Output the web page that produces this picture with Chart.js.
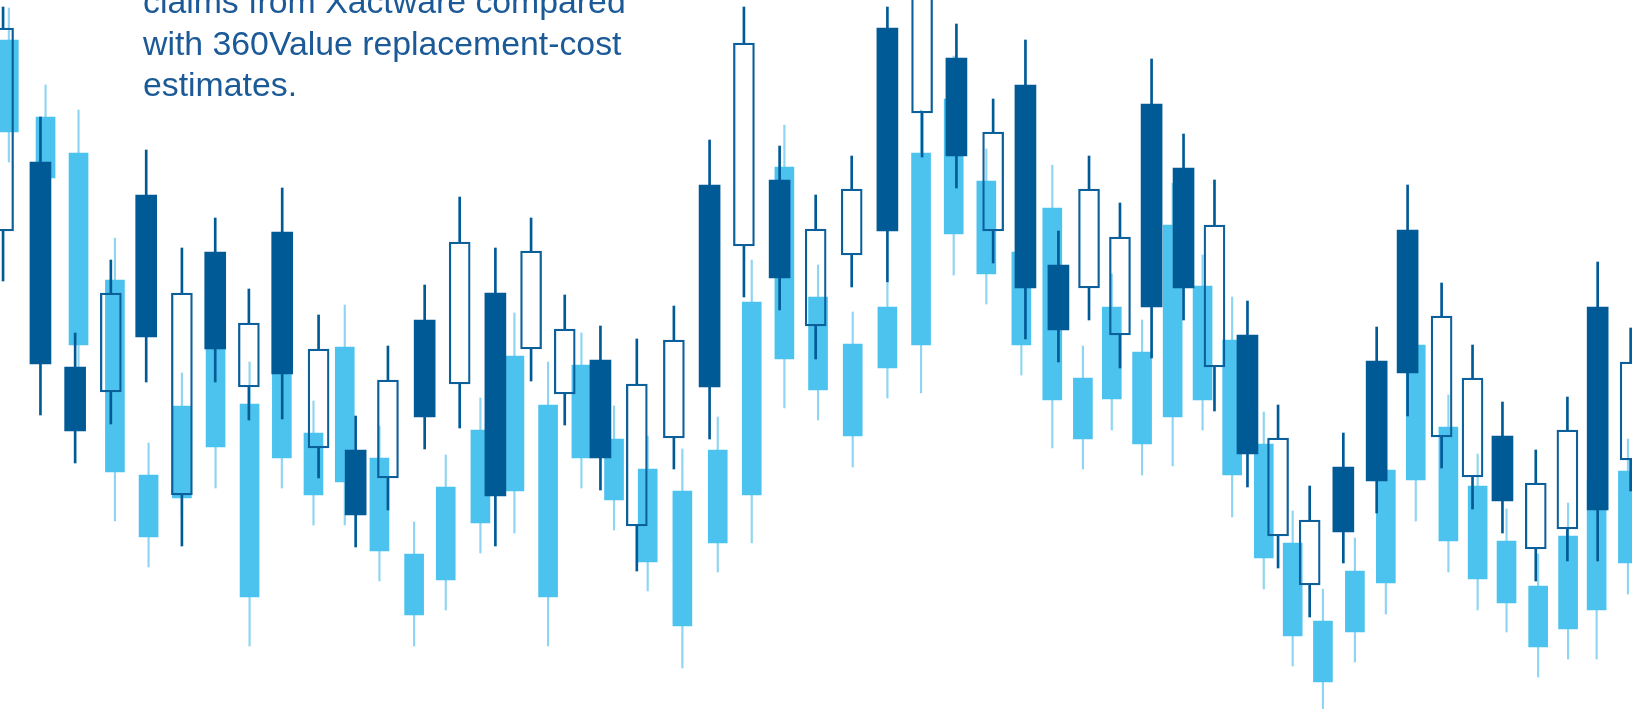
<!DOCTYPE html>
<html>
<head>
<meta charset="utf-8">
<title>Xactware vs 360Value</title>
<script src="https://cdn.jsdelivr.net/npm/chart.js@4.4.1/dist/chart.umd.min.js"></script>
<style>
  html, body { margin: 0; padding: 0; background: #fff; }
  #wrap { position: relative; width: 1632px; height: 709px; overflow: hidden; }
  #chart { position: absolute; left: 0; top: 0; }
  .caption {
    position: absolute;
    left: 143px;
    top: -19px;
    font-family: "Liberation Sans", Arial, Helvetica, sans-serif;
    font-size: 33.8px;
    line-height: 41.5px;
    color: #1b5a97;
    white-space: nowrap;
  }
</style>
</head>
<body>
<div id="wrap">
  <canvas id="chart" width="1632" height="709"></canvas>
  <div class="caption">claims from Xactware compared<br>with 360Value replacement-cost<br>estimates.</div>
</div>
<script>
// Xactware claims (dark candles): day position and OHLC index values
const xactDay = [0.09, 1.19, 2.21, 3.26, 4.30, 5.35, 6.33, 7.32, 8.30, 9.37, 10.46, 11.41, 12.49, 13.52, 14.57, 15.62, 16.61, 17.66, 18.73, 19.82, 20.87, 21.88, 22.93, 23.99, 25.05, 26.10, 27.12, 28.13, 29.21, 30.16, 31.13, 32.03, 32.94, 33.87, 34.81, 35.72, 36.69, 37.59, 38.52, 39.51, 40.49, 41.40, 42.40, 43.31, 44.19, 45.17, 46.10, 46.99, 47.96];
const xactOpen = [478, 547, 342, 317, 514, 214, 457, 322, 477, 261, 259, 231, 389, 325, 416, 360, 315, 349, 183, 271, 524, 463, 529, 383, 454, 681, 596, 651, 478, 624, 444, 421, 374, 605, 541, 342, 374, 173, 124, 242, 348, 479, 272, 232, 273, 160, 180, 402, 249];
const xactClose = [681, 345, 278, 416, 372, 416, 360, 386, 335, 360, 194, 329, 292, 467, 213, 458, 380, 251, 325, 369, 322, 666, 431, 480, 520, 478, 799, 553, 577, 421, 379, 520, 472, 402, 421, 484, 255, 271, 189, 177, 228, 336, 393, 331, 208, 226, 279, 199, 347];
const xactHigh = [702, 592, 376, 449, 559, 461, 491, 420, 521, 394, 293, 363, 424, 512, 461, 491, 414, 383, 370, 403, 569, 702, 563, 514, 553, 702, 839, 685, 610, 669, 478, 553, 506, 650, 575, 529, 408, 304, 223, 276, 382, 524, 426, 364, 307, 259, 312, 447, 381];
const xactLow = [428, 294, 246, 285, 327, 163, 327, 289, 290, 231, 162, 199, 260, 281, 163, 328, 284, 219, 138, 240, 270, 412, 399, 350, 422, 427, 552, 521, 446, 370, 347, 389, 341, 351, 389, 298, 222, 141, 92, 146, 196, 293, 241, 200, 176, 128, 148, 148, 218];

// 360Value estimates (light candles)
const valueDay = [0.26, 1.34, 2.31, 3.38, 4.37, 5.35, 6.34, 7.34, 8.29, 9.22, 10.14, 11.16, 12.18, 13.11, 14.13, 15.13, 16.12, 17.10, 18.06, 19.05, 20.07, 21.11, 22.11, 23.07, 24.06, 25.08, 26.10, 27.09, 28.05, 29.01, 30.04, 30.95, 31.85, 32.70, 33.59, 34.49, 35.37, 36.24, 37.17, 38.02, 38.91, 39.85, 40.76, 41.64, 42.60, 43.46, 44.31, 45.24, 46.12, 46.96, 47.88];
const valueOpen = [669, 592, 556, 429, 234, 303, 379, 305, 349, 276, 362, 251, 155, 222, 279, 353, 304, 344, 270, 240, 218, 259, 407, 542, 412, 365, 402, 556, 610, 528, 457, 501, 331, 402, 357, 484, 423, 369, 265, 166, 88, 138, 239, 364, 282, 223, 168, 123, 173, 229, 238];
const valueClose = [577, 531, 364, 237, 172, 211, 262, 112, 251, 214, 227, 158, 94, 129, 186, 218, 112, 251, 209, 147, 83, 166, 214, 350, 319, 273, 341, 364, 475, 435, 364, 309, 270, 310, 265, 292, 309, 234, 151, 73, 27, 77, 126, 229, 168, 130, 106, 62, 80, 99, 146];
const valueHigh = [701, 624, 599, 471, 266, 336, 409, 347, 379, 308, 404, 283, 187, 254, 311, 396, 347, 376, 303, 273, 260, 292, 449, 584, 444, 397, 426, 599, 653, 560, 489, 544, 363, 435, 389, 526, 454, 412, 297, 198, 120, 171, 259, 389, 314, 255, 200, 155, 206, 259, 270];
const valueLow = [547, 514, 338, 188, 142, 194, 221, 63, 221, 184, 184, 128, 63, 99, 156, 176, 63, 221, 179, 118, 41, 137, 166, 301, 289, 242, 311, 316, 434, 405, 334, 261, 240, 279, 234, 243, 279, 192, 120, 43, -11, 47, 95, 188, 137, 99, 77, 32, 50, 50, 115];

const DARK = "#005a96";
const HOLLOW_EDGE = "#0b5f9b";
const LIGHT = "#4cc3ee";
const LIGHT_WICK = "#8dd5f2";

function points(days, from, to, keep) {
  const out = [];
  days.forEach((d, i) => {
    if (!keep || keep(i)) {
      out.push({ x: d, y: [from[i], to[i]] });
    }
  });
  return out;
}

const rising = (i) => xactClose[i] > xactOpen[i];
const xactTop = xactOpen.map((o, i) => Math.max(o, xactClose[i]));
const xactBottom = xactOpen.map((o, i) => Math.min(o, xactClose[i]));

const datasets = [
  {
    label: "360Value wick",
    xAxisID: "xl",
    data: points(valueDay, valueLow, valueHigh),
    backgroundColor: LIGHT_WICK,
    maxBarThickness: 1.5,
    order: 6
  },
  {
    label: "360Value",
    xAxisID: "xl",
    data: points(valueDay, valueClose, valueOpen),
    backgroundColor: LIGHT,
    maxBarThickness: 19,
    order: 5
  },
  {
    label: "Xactware upper wick",
    xAxisID: "xd",
    data: points(xactDay, xactTop, xactHigh),
    backgroundColor: DARK,
    maxBarThickness: 2,
    order: 4
  },
  {
    label: "Xactware lower wick",
    xAxisID: "xd",
    data: points(xactDay, xactLow, xactBottom),
    backgroundColor: DARK,
    maxBarThickness: 2,
    order: 3
  },
  {
    label: "Xactware down",
    xAxisID: "xd",
    data: points(xactDay, xactClose, xactOpen, (i) => !rising(i)),
    backgroundColor: DARK,
    maxBarThickness: 21,
    order: 2
  },
  {
    label: "Xactware up",
    xAxisID: "xd",
    data: points(xactDay, xactOpen, xactClose, rising),
    backgroundColor: "rgba(0,0,0,0)",
    borderColor: HOLLOW_EDGE,
    borderWidth: 1.6,
    borderSkipped: false,
    maxBarThickness: 21,
    order: 1
  }
];

new Chart(document.getElementById("chart"), {
  type: "bar",
  data: { datasets: datasets },
  options: {
    responsive: false,
    animation: false,
    devicePixelRatio: 1,
    layout: { padding: 0 },
    plugins: {
      legend: { display: false },
      tooltip: { enabled: false }
    },
    datasets: {
      bar: {
        grouped: false,
        categoryPercentage: 1,
        barPercentage: 1
      }
    },
    scales: {
      xl: { type: "linear", axis: "x", min: 0, max: 48, offset: false, display: false },
      xd: { type: "linear", axis: "x", min: 0, max: 48, offset: false, display: false },
      y: { type: "linear", min: 0, max: 709, display: false }
    }
  }
});
</script>
</body>
</html>
